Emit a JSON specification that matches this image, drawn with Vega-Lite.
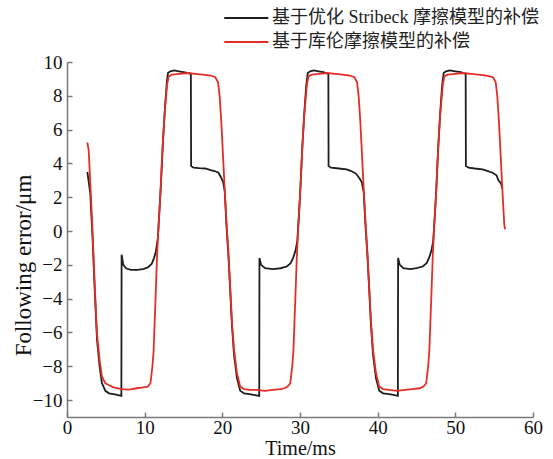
{
  "$schema": "https://vega.github.io/schema/vega-lite/v6.json",
  "width": 466,
  "height": 355,
  "autosize": {"type": "none"},
  "padding": {"left": 67, "top": 62, "right": 20, "bottom": 42},
  "background": "white",
  "config": {"view": {"stroke": null}, "font": "Liberation Serif"},
  "data": {"values": [
    {"s":"B","t":2.62,"v":3.5},{"s":"B","t":2.8,"v":2.9},{"s":"B","t":3.0,"v":2.2},{"s":"B","t":3.3,"v":-0.5},{"s":"B","t":3.56,"v":-3.4},{"s":"B","t":3.86,"v":-6.4},{"s":"B","t":4.2,"v":-8.0},{"s":"B","t":4.5,"v":-9.0},{"s":"B","t":4.94,"v":-9.45},{"s":"B","t":5.4,"v":-9.6},{"s":"B","t":6.0,"v":-9.65},{"s":"B","t":6.6,"v":-9.7},{"s":"B","t":7.0,"v":-9.75},{"s":"B","t":7.03,"v":-1.4},{"s":"B","t":7.25,"v":-2.0},{"s":"B","t":7.6,"v":-2.2},{"s":"B","t":8.2,"v":-2.3},{"s":"B","t":9.0,"v":-2.3},{"s":"B","t":9.8,"v":-2.25},{"s":"B","t":10.4,"v":-2.15},{"s":"B","t":10.9,"v":-1.95},{"s":"B","t":11.2,"v":-1.6},{"s":"B","t":11.45,"v":-1.2},{"s":"B","t":11.7,"v":-0.4},{"s":"B","t":11.9,"v":1.2},{"s":"B","t":12.1,"v":2.8},{"s":"B","t":12.35,"v":5.2},{"s":"B","t":12.6,"v":7.2},{"s":"B","t":12.85,"v":8.8},{"s":"B","t":13.0,"v":9.35},{"s":"B","t":13.3,"v":9.45},{"s":"B","t":13.8,"v":9.5},{"s":"B","t":14.4,"v":9.45},{"s":"B","t":15.0,"v":9.4},{"s":"B","t":15.5,"v":9.35},{"s":"B","t":15.95,"v":9.3},{"s":"B","t":15.98,"v":3.85},{"s":"B","t":16.3,"v":3.75},{"s":"B","t":17.0,"v":3.72},{"s":"B","t":17.8,"v":3.7},{"s":"B","t":18.5,"v":3.6},{"s":"B","t":19.0,"v":3.55},{"s":"B","t":19.5,"v":3.45},{"s":"B","t":19.8,"v":3.2},{"s":"B","t":20.1,"v":2.9},{"s":"B","t":20.3,"v":2.4},{"s":"B","t":20.55,"v":0.2},{"s":"B","t":20.8,"v":-1.6},{"s":"B","t":21.0,"v":-3.4},{"s":"B","t":21.23,"v":-5.5},{"s":"B","t":21.5,"v":-7.3},{"s":"B","t":21.88,"v":-8.7},{"s":"B","t":22.3,"v":-9.45},{"s":"B","t":22.8,"v":-9.6},{"s":"B","t":23.5,"v":-9.65},{"s":"B","t":24.2,"v":-9.7},{"s":"B","t":24.75,"v":-9.75},{"s":"B","t":24.78,"v":-1.6},{"s":"B","t":25.0,"v":-2.0},{"s":"B","t":25.5,"v":-2.2},{"s":"B","t":26.5,"v":-2.25},{"s":"B","t":27.5,"v":-2.2},{"s":"B","t":28.3,"v":-2.1},{"s":"B","t":28.8,"v":-1.9},{"s":"B","t":29.1,"v":-1.6},{"s":"B","t":29.4,"v":-1.2},{"s":"B","t":29.65,"v":-0.6},{"s":"B","t":29.85,"v":0.9},{"s":"B","t":30.05,"v":2.5},{"s":"B","t":30.3,"v":5.0},{"s":"B","t":30.55,"v":7.0},{"s":"B","t":30.8,"v":8.6},{"s":"B","t":31.0,"v":9.35},{"s":"B","t":31.3,"v":9.45},{"s":"B","t":31.8,"v":9.5},{"s":"B","t":32.4,"v":9.45},{"s":"B","t":33.0,"v":9.4},{"s":"B","t":33.65,"v":9.3},{"s":"B","t":33.68,"v":3.85},{"s":"B","t":34.0,"v":3.75},{"s":"B","t":35.0,"v":3.7},{"s":"B","t":36.0,"v":3.65},{"s":"B","t":36.6,"v":3.55},{"s":"B","t":37.2,"v":3.4},{"s":"B","t":37.6,"v":3.15},{"s":"B","t":37.95,"v":2.9},{"s":"B","t":38.2,"v":2.3},{"s":"B","t":38.45,"v":0.2},{"s":"B","t":38.7,"v":-1.6},{"s":"B","t":38.9,"v":-3.4},{"s":"B","t":39.13,"v":-5.5},{"s":"B","t":39.4,"v":-7.3},{"s":"B","t":39.78,"v":-8.7},{"s":"B","t":40.2,"v":-9.45},{"s":"B","t":40.7,"v":-9.6},{"s":"B","t":41.5,"v":-9.65},{"s":"B","t":42.2,"v":-9.7},{"s":"B","t":42.6,"v":-9.75},{"s":"B","t":42.63,"v":-1.6},{"s":"B","t":42.85,"v":-2.0},{"s":"B","t":43.3,"v":-2.2},{"s":"B","t":44.2,"v":-2.25},{"s":"B","t":45.0,"v":-2.2},{"s":"B","t":45.8,"v":-2.1},{"s":"B","t":46.3,"v":-1.9},{"s":"B","t":46.6,"v":-1.6},{"s":"B","t":46.9,"v":-1.2},{"s":"B","t":47.15,"v":-0.6},{"s":"B","t":47.35,"v":0.9},{"s":"B","t":47.55,"v":2.5},{"s":"B","t":47.8,"v":5.0},{"s":"B","t":48.05,"v":7.0},{"s":"B","t":48.3,"v":8.6},{"s":"B","t":48.5,"v":9.35},{"s":"B","t":48.8,"v":9.45},{"s":"B","t":49.3,"v":9.5},{"s":"B","t":50.0,"v":9.45},{"s":"B","t":50.7,"v":9.4},{"s":"B","t":51.33,"v":9.3},{"s":"B","t":51.36,"v":3.85},{"s":"B","t":51.7,"v":3.75},{"s":"B","t":52.5,"v":3.7},{"s":"B","t":53.5,"v":3.65},{"s":"B","t":54.2,"v":3.55},{"s":"B","t":54.8,"v":3.45},{"s":"B","t":55.3,"v":3.3},{"s":"B","t":55.55,"v":3.0},{"s":"B","t":55.9,"v":2.8},{"s":"B","t":56.05,"v":2.5},
    {"s":"R","t":2.62,"v":5.25},{"s":"R","t":2.79,"v":4.79},{"s":"R","t":3.0,"v":2.82},{"s":"R","t":3.3,"v":-0.14},{"s":"R","t":3.56,"v":-3.1},{"s":"R","t":3.86,"v":-6.06},{"s":"R","t":4.2,"v":-7.63},{"s":"R","t":4.5,"v":-8.62},{"s":"R","t":4.94,"v":-9.01},{"s":"R","t":5.36,"v":-9.11},{"s":"R","t":6.0,"v":-9.25},{"s":"R","t":7.0,"v":-9.35},{"s":"R","t":8.0,"v":-9.38},{"s":"R","t":9.0,"v":-9.3},{"s":"R","t":9.8,"v":-9.25},{"s":"R","t":10.4,"v":-9.2},{"s":"R","t":10.75,"v":-9.0},{"s":"R","t":11.0,"v":-8.0},{"s":"R","t":11.15,"v":-7.1},{"s":"R","t":11.4,"v":-4.0},{"s":"R","t":11.6,"v":-1.4},{"s":"R","t":11.8,"v":0.4},{"s":"R","t":12.0,"v":2.0},{"s":"R","t":12.25,"v":4.5},{"s":"R","t":12.5,"v":6.5},{"s":"R","t":12.7,"v":7.7},{"s":"R","t":12.9,"v":8.7},{"s":"R","t":13.1,"v":9.15},{"s":"R","t":13.5,"v":9.25},{"s":"R","t":14.5,"v":9.3},{"s":"R","t":15.5,"v":9.35},{"s":"R","t":16.5,"v":9.3},{"s":"R","t":17.5,"v":9.25},{"s":"R","t":18.5,"v":9.2},{"s":"R","t":19.1,"v":9.1},{"s":"R","t":19.45,"v":8.8},{"s":"R","t":19.65,"v":8.0},{"s":"R","t":19.85,"v":6.6},{"s":"R","t":20.05,"v":4.8},{"s":"R","t":20.3,"v":2.5},{"s":"R","t":20.55,"v":0.4},{"s":"R","t":20.8,"v":-1.4},{"s":"R","t":21.0,"v":-3.2},{"s":"R","t":21.23,"v":-5.3},{"s":"R","t":21.5,"v":-7.0},{"s":"R","t":21.88,"v":-8.4},{"s":"R","t":22.3,"v":-9.2},{"s":"R","t":22.8,"v":-9.35},{"s":"R","t":23.5,"v":-9.4},{"s":"R","t":24.5,"v":-9.4},{"s":"R","t":25.5,"v":-9.45},{"s":"R","t":26.5,"v":-9.4},{"s":"R","t":27.5,"v":-9.35},{"s":"R","t":28.0,"v":-9.3},{"s":"R","t":28.4,"v":-9.2},{"s":"R","t":28.75,"v":-9.0},{"s":"R","t":29.0,"v":-8.0},{"s":"R","t":29.15,"v":-7.1},{"s":"R","t":29.4,"v":-4.0},{"s":"R","t":29.6,"v":-1.4},{"s":"R","t":29.8,"v":0.4},{"s":"R","t":30.0,"v":2.0},{"s":"R","t":30.25,"v":4.5},{"s":"R","t":30.5,"v":6.5},{"s":"R","t":30.7,"v":7.7},{"s":"R","t":30.9,"v":8.7},{"s":"R","t":31.1,"v":9.15},{"s":"R","t":31.5,"v":9.25},{"s":"R","t":32.5,"v":9.3},{"s":"R","t":33.5,"v":9.35},{"s":"R","t":34.5,"v":9.3},{"s":"R","t":35.5,"v":9.25},{"s":"R","t":36.4,"v":9.2},{"s":"R","t":37.0,"v":9.1},{"s":"R","t":37.35,"v":8.8},{"s":"R","t":37.55,"v":8.0},{"s":"R","t":37.75,"v":6.6},{"s":"R","t":37.95,"v":4.8},{"s":"R","t":38.2,"v":2.5},{"s":"R","t":38.45,"v":0.4},{"s":"R","t":38.7,"v":-1.4},{"s":"R","t":38.9,"v":-3.2},{"s":"R","t":39.13,"v":-5.3},{"s":"R","t":39.4,"v":-7.0},{"s":"R","t":39.78,"v":-8.4},{"s":"R","t":40.2,"v":-9.2},{"s":"R","t":40.7,"v":-9.35},{"s":"R","t":41.5,"v":-9.4},{"s":"R","t":42.5,"v":-9.45},{"s":"R","t":43.5,"v":-9.4},{"s":"R","t":44.5,"v":-9.35},{"s":"R","t":45.4,"v":-9.3},{"s":"R","t":45.9,"v":-9.2},{"s":"R","t":46.25,"v":-9.0},{"s":"R","t":46.5,"v":-8.0},{"s":"R","t":46.65,"v":-7.1},{"s":"R","t":46.9,"v":-4.0},{"s":"R","t":47.1,"v":-1.4},{"s":"R","t":47.3,"v":0.4},{"s":"R","t":47.5,"v":2.0},{"s":"R","t":47.75,"v":4.5},{"s":"R","t":48.0,"v":6.5},{"s":"R","t":48.2,"v":7.7},{"s":"R","t":48.4,"v":8.7},{"s":"R","t":48.6,"v":9.15},{"s":"R","t":49.0,"v":9.25},{"s":"R","t":50.0,"v":9.3},{"s":"R","t":51.0,"v":9.35},{"s":"R","t":52.0,"v":9.3},{"s":"R","t":53.0,"v":9.25},{"s":"R","t":54.0,"v":9.2},{"s":"R","t":54.85,"v":9.1},{"s":"R","t":55.2,"v":8.8},{"s":"R","t":55.4,"v":8.0},{"s":"R","t":55.6,"v":6.6},{"s":"R","t":55.8,"v":4.8},{"s":"R","t":56.05,"v":2.5},{"s":"R","t":56.3,"v":0.4},{"s":"R","t":56.4,"v":0.1}
  ]},
  "mark": {"type": "line", "strokeWidth": 1.8},
  "encoding": {
    "x": {
      "field": "t", "type": "quantitative",
      "scale": {"domain": [0, 60], "nice": false, "zero": false},
      "axis": {
        "values": [0, 10, 20, 30, 40, 50, 60],
        "grid": false, "tickSize": -5, "tickWidth": 1.5, "tickColor": "#7a7a7a",
        "domainColor": "#7a7a7a", "domainWidth": 1.5,
        "labelFont": "Liberation Serif", "labelFontSize": 19, "labelColor": "#111",
        "labelPadding": 6, "labelFlush": false,
        "title": "Time/ms", "titleFont": "Liberation Serif", "titleFontSize": 20,
        "titleFontWeight": "normal", "titleColor": "#111",
        "titleY": 37, "titleBaseline": "alphabetic"
      }
    },
    "y": {
      "field": "v", "type": "quantitative",
      "scale": {"domain": [-11, 10], "nice": false, "zero": false},
      "axis": {
        "values": [-10, -8, -6, -4, -2, 0, 2, 4, 6, 8, 10],
        "grid": false, "tickSize": -5, "tickWidth": 1.5, "tickColor": "#7a7a7a",
        "domainColor": "#7a7a7a", "domainWidth": 1.5,
        "labelFont": "Liberation Serif", "labelFontSize": 19, "labelColor": "#111",
        "labelPadding": 10, "labelFlush": false,
        "title": "Following error/μm", "titleFont": "Liberation Serif", "titleFontSize": 23,
        "titleFontWeight": "normal", "titleColor": "#111",
        "titleX": -44, "titleY": 203, "titleAngle": 270, "titleAlign": "center", "titleBaseline": "middle"
      }
    },
    "color": {
      "field": "s", "type": "nominal",
      "scale": {"domain": ["B", "R"], "range": ["#1e1e1e", "#e52d27"]},
      "legend": {
        "orient": "none", "legendX": 185, "legendY": -53, "title": null,
        "symbolType": "M-5,0H1", "symbolSize": 216, "symbolStrokeWidth": 2,
        "labelFont": "Liberation Serif, Noto Sans CJK SC", "labelFontSize": 18, "labelColor": "#222",
        "labelOffset": 2, "labelLimit": 400, "rowPadding": 6, "padding": 0,
        "labelExpr": "datum.label == 'B' ? '基于优化 Stribeck 摩擦模型的补偿' : '基于库伦摩擦模型的补偿'"
      }
    }
  }
}
